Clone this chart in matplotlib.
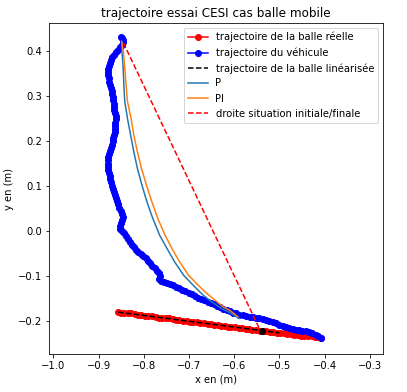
import numpy as np
import matplotlib
matplotlib.use('Agg')
import matplotlib.pyplot as plt

# trajectoire de la balle reelle
balle_x = [-0.857, -0.850, -0.843, -0.835, -0.828, -0.820, -0.812, -0.805, -0.797, -0.790,
           -0.782, -0.774, -0.767, -0.759, -0.751, -0.744, -0.736, -0.728, -0.721, -0.713,
           -0.705, -0.698, -0.690, -0.682, -0.675, -0.667, -0.659, -0.652, -0.644, -0.636,
           -0.629, -0.621, -0.613, -0.606, -0.598, -0.590, -0.583, -0.575, -0.567, -0.560,
           -0.552, -0.544, -0.537, -0.529, -0.521, -0.514, -0.506, -0.498, -0.491, -0.483,
           -0.475, -0.468, -0.460, -0.452, -0.445, -0.437, -0.429, -0.422, -0.414, -0.408]
balle_y = [-0.180, -0.181, -0.182, -0.183, -0.183, -0.184, -0.186, -0.187, -0.188, -0.188,
           -0.189, -0.191, -0.192, -0.193, -0.193, -0.194, -0.196, -0.197, -0.198, -0.199,
           -0.199, -0.201, -0.202, -0.203, -0.204, -0.204, -0.206, -0.207, -0.208, -0.209,
           -0.210, -0.210, -0.212, -0.213, -0.214, -0.215, -0.215, -0.217, -0.218, -0.219,
           -0.220, -0.221, -0.222, -0.223, -0.224, -0.225, -0.226, -0.227, -0.227, -0.228,
           -0.229, -0.230, -0.231, -0.232, -0.232, -0.233, -0.234, -0.235, -0.236, -0.237]

# trajectoire du vehicule
vehicule_x = [-0.851, -0.848, -0.845, -0.846, -0.849, -0.853, -0.857, -0.862, -0.866, -0.870,
              -0.873, -0.875, -0.877, -0.879, -0.879, -0.878, -0.877, -0.876, -0.875, -0.873,
              -0.871, -0.870, -0.868, -0.867, -0.866, -0.866, -0.865, -0.864, -0.862, -0.862,
              -0.863, -0.864, -0.864, -0.864, -0.866, -0.867, -0.868, -0.870, -0.872, -0.874,
              -0.876, -0.878, -0.879, -0.879, -0.878, -0.878, -0.877, -0.875, -0.874, -0.872,
              -0.870, -0.868, -0.866, -0.864, -0.862, -0.859, -0.856, -0.854, -0.851, -0.848,
              -0.846, -0.847, -0.850, -0.853, -0.852, -0.847, -0.843, -0.839, -0.835, -0.831,
              -0.827, -0.822, -0.817, -0.813, -0.807, -0.801, -0.796, -0.791, -0.786, -0.781,
              -0.776, -0.771, -0.766, -0.765, -0.767, -0.762, -0.755, -0.749, -0.743, -0.736,
              -0.729, -0.722, -0.715, -0.708, -0.701, -0.694, -0.687, -0.680, -0.673, -0.666,
              -0.659, -0.652, -0.645, -0.638, -0.631, -0.624, -0.617, -0.610, -0.603, -0.596,
              -0.589, -0.581, -0.574, -0.566, -0.559, -0.552, -0.545, -0.537, -0.529, -0.522,
              -0.514, -0.507, -0.500, -0.493, -0.485, -0.478, -0.471, -0.463, -0.456, -0.449,
              -0.441, -0.434, -0.427, -0.420, -0.414, -0.407]
vehicule_y = [0.431, 0.428, 0.424, 0.419, 0.414, 0.408, 0.402, 0.397, 0.392, 0.386,
              0.380, 0.374, 0.367, 0.360, 0.353, 0.346, 0.339, 0.332, 0.325, 0.318,
              0.311, 0.304, 0.297, 0.290, 0.283, 0.276, 0.269, 0.262, 0.255, 0.248,
              0.241, 0.234, 0.227, 0.220, 0.213, 0.206, 0.199, 0.192, 0.185, 0.178,
              0.171, 0.164, 0.157, 0.150, 0.143, 0.136, 0.129, 0.122, 0.115, 0.108,
              0.101, 0.094, 0.087, 0.080, 0.073, 0.066, 0.059, 0.052, 0.045, 0.038,
              0.032, 0.025, 0.018, 0.011, 0.005, 0.001, -0.004, -0.010, -0.017, -0.024,
              -0.030, -0.036, -0.042, -0.047, -0.051, -0.055, -0.060, -0.066, -0.072, -0.078,
              -0.083, -0.088, -0.093, -0.100, -0.106, -0.111, -0.114, -0.116, -0.117, -0.120,
              -0.124, -0.126, -0.130, -0.134, -0.137, -0.140, -0.145, -0.148, -0.150, -0.152,
              -0.157, -0.159, -0.163, -0.167, -0.169, -0.172, -0.175, -0.177, -0.181, -0.183,
              -0.186, -0.187, -0.189, -0.190, -0.191, -0.193, -0.194, -0.196, -0.198, -0.199,
              -0.202, -0.204, -0.208, -0.210, -0.213, -0.216, -0.217, -0.219, -0.220, -0.222,
              -0.223, -0.225, -0.227, -0.230, -0.234, -0.238]

# trajectoire de la balle linearisee
lin_x = [-0.857, -0.500]
lin_y = [-0.180, -0.226]

# point d'interception
inter_x = [-0.539]
inter_y = [-0.222]

# simulation correcteur P
p_x = [-0.849, -0.848, -0.8455, -0.844, -0.842, -0.836, -0.829, -0.822, -0.814, -0.804,
       -0.793, -0.780, -0.765, -0.749, -0.732, -0.712, -0.691, -0.669, -0.650, -0.628,
       -0.614, -0.588]
p_y = [0.421, 0.398, 0.362, 0.324, 0.288, 0.250, 0.213, 0.176, 0.139, 0.102,
       0.065, 0.028, -0.009, -0.038, -0.068, -0.098, -0.120, -0.142, -0.157, -0.172,
       -0.179, -0.194]

# simulation correcteur PI
pi_x = [-0.849, -0.845, -0.842, -0.839, -0.836, -0.828, -0.822, -0.814, -0.805, -0.794,
        -0.782, -0.769, -0.753, -0.738, -0.721, -0.701, -0.680, -0.661, -0.643, -0.625,
        -0.610, -0.592]
pi_y = [0.421, 0.398, 0.362, 0.324, 0.288, 0.250, 0.213, 0.176, 0.139, 0.102,
        0.065, 0.028, -0.009, -0.038, -0.068, -0.098, -0.120, -0.138, -0.153, -0.168,
        -0.176, -0.190]

# droite situation initiale/finale
droite_x = [-0.845, -0.545]
droite_y = [0.418, -0.215]

fig = plt.figure(figsize=(407 / 72, 392 / 72), dpi=72)
ax = fig.add_axes([49 / 407, 38 / 392, 334 / 407, 331 / 392])

ax.plot(balle_x, balle_y, 'o-', color='red', label='trajectoire de la balle réelle')
ax.plot(vehicule_x, vehicule_y, 'o-', color='blue', label='trajectoire du véhicule')
ax.plot(lin_x, lin_y, '--', color='black', label='trajectoire de la balle linéarisée')
ax.plot(p_x, p_y, label='P')
ax.plot(pi_x, pi_y, label='PI')
ax.plot(droite_x, droite_y, '--', color='red', label='droite situation initiale/finale')
ax.plot(inter_x, inter_y, 'o', color='black')

ax.set_xlim(-1.0095, -0.271)
ax.set_ylim(-0.273, 0.462)
ax.set_xticks(np.arange(-1.0, -0.25, 0.1))
ax.set_title('trajectoire essai CESI cas balle mobile')
ax.set_xlabel('x en (m)')
ax.set_ylabel('y en (m)')
ax.legend(loc='upper right')

fig.savefig('out.png', dpi=72)
